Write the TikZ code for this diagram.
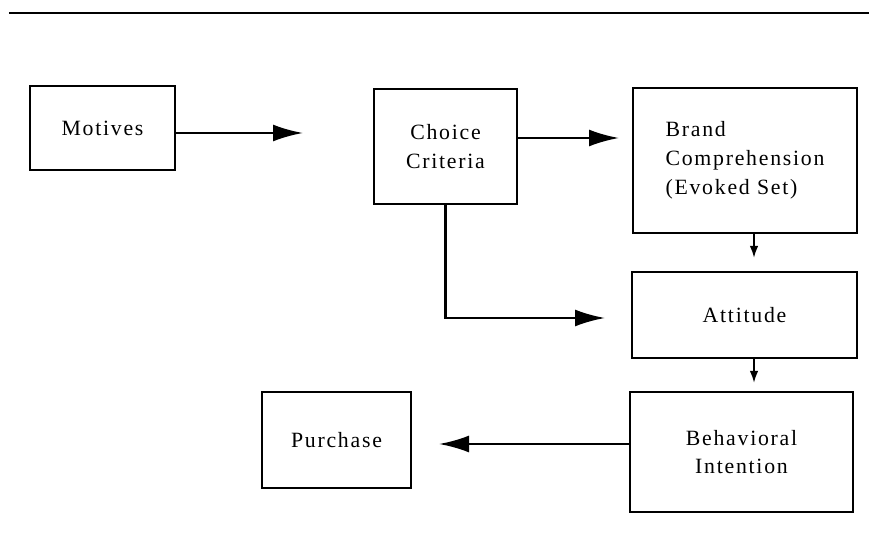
\documentclass[tikz,border=0pt]{standalone}
\usepackage{fontspec}
\setmainfont{Liberation Serif}[LetterSpace=8]
\usepackage{tikz}
\usetikzlibrary{arrows.meta, positioning}

\begin{document}
\begin{tikzpicture}[
    box/.style={draw, line width=1.1pt, inner sep=0pt, align=center,
      font=\fontsize{12.4}{16.4}\selectfont},
    bigarrow/.style={line width=1.4pt, -{Latex[length=0.6cm,width=0.34cm]}},
    smallarrow/.style={line width=1.1pt, -{Latex[length=0.24cm,width=0.17cm]}}
  ]
  \useasboundingbox (0,0) rectangle (17.38,-10.78);
  \draw[line width=1.5pt] (0.18,-0.26) -- (17.38,-0.26);

  \node[box, minimum width=2.9cm, minimum height=1.68cm] (motives) at (2.05,-2.56) {\raisebox{-2pt}{Motives}};
  \node[box, minimum width=2.86cm, minimum height=2.3cm] (choice) at (8.91,-2.93) {Choice\\Criteria};
  \node[box, minimum width=4.48cm, minimum height=2.9cm, align=left] (brand) at (14.9,-3.21) {Brand\\Comprehension\\(Evoked Set)};
  \node[box, minimum width=4.5cm, minimum height=1.72cm] (attitude) at (14.89,-6.3) {Attitude};
  \node[box, minimum width=4.46cm, minimum height=2.4cm] (behav) at (14.83,-9.04) {Behavioral\\Intention};
  \node[box, minimum width=2.98cm, minimum height=1.92cm] (purchase) at (6.73,-8.8) {Purchase};

  % free arrow ends
  \coordinate (m1) at (6.06,-2.66);
  \coordinate (c1) at (12.38,-2.76);
  \coordinate (c2) at (12.1,-6.36);
  \coordinate (a1) at (15.08,-5.16);
  \coordinate (a2) at (15.08,-7.66);
  \coordinate (p1) at (8.78,-8.88);

  \draw[bigarrow] (motives.east |- m1) -- (m1);
  \draw[bigarrow] (choice.east |- c1) -- (c1);
  \draw[bigarrow] (choice.south) -- (choice.south |- c2) -- (c2);
  \draw[smallarrow] (a1 |- brand.south) -- (a1);
  \draw[smallarrow] (a2 |- attitude.south) -- (a2);
  \draw[bigarrow] (behav.west |- p1) -- (p1);
\end{tikzpicture}
\end{document}
